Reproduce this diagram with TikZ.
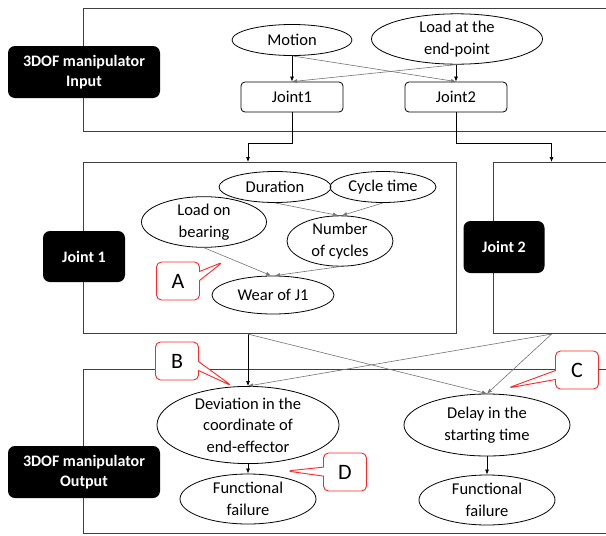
\documentclass[tikz,border=0pt]{standalone}
\usepackage{fontspec}
\setmainfont{Carlito}
\usepackage{tikz}
\usetikzlibrary{shapes.geometric, shapes.callouts, arrows.meta, positioning}
\tikzstyle{frame} = [rectangle, draw=black!75, line width=1.1pt, inner sep=0pt]
\tikzstyle{tag} = [rectangle, rounded corners=7pt, fill=black, text=white, align=center, font=\fontsize{16}{20}\selectfont\bfseries]
\tikzstyle{cause} = [ellipse, draw=black, line width=0.8pt, inner sep=0pt, align=center, font=\fontsize{16.5}{21.5}\selectfont]
\tikzstyle{jnt} = [rectangle, rounded corners=4pt, draw=black, line width=0.8pt, minimum width=102, minimum height=30, font=\fontsize{16.5}{21}\selectfont]
\tikzstyle{note} = [rectangle callout, rounded corners=5pt, draw=red!85, line width=0.9pt, fill=white, minimum width=43, minimum height=38, callout pointer width=9pt, font=\fontsize{22}{24}\selectfont]
\tikzstyle{arr} = [-{Latex[length=5pt,width=4pt]}, line width=0.7pt]
\tikzstyle{arr2} = [-{Latex[length=5pt,width=4pt]}, line width=0.6pt, draw=black!55]

\begin{document}
\begin{tikzpicture}[x=1pt, y=-1pt]
            \useasboundingbox (0,0) rectangle (606,536);

            % Frames
            \node (inframe) [frame, anchor=north west, minimum width=560, minimum height=123] at (83,8) {};
            \node (jf1) [frame, anchor=north west, minimum width=373, minimum height=171] at (83,162) {};
            \node (jf2) [frame, anchor=north west, minimum width=116, minimum height=171] at (493,162) {};
            \node (outframe) [frame, anchor=north west, minimum width=560, minimum height=164] at (83,369) {};

            % Tags
            \node (tagin) [tag, minimum width=152, minimum height=52] at (84,72) {3DOF manipulator\\Input};
            \node (tagj1) [tag, minimum width=82, minimum height=51] at (84,256.5) {Joint 1};
            \node (tagj2) [tag, minimum width=81, minimum height=52] at (504,247) {Joint 2};
            \node (tagout) [tag, minimum width=152, minimum height=52] at (84,472) {3DOF manipulator\\Output};

            % Input level
            \node (motion) [cause, minimum width=120, minimum height=31] at (292,40) {Motion};
            \node (load) [cause, minimum width=171, minimum height=40] at (457,39) {Load at the\\end-point};
            \node (j1) [jnt] at (292,97) {Joint1};
            \node (j2) [jnt] at (456,97) {Joint2};

            % Joint 1
            \node (dur) [cause, minimum width=112, minimum height=31] at (275,187) {Duration};
            \node (cyc) [cause, minimum width=106, minimum height=31] at (383,187) {Cycle time};
            \node (bear) [cause, minimum width=125, minimum height=41] at (204,222) {Load on\\bearing};
            \node (ncyc) [cause, minimum width=106, minimum height=42] at (340,241) {Number\\of cycles};
            \node (wear) [cause, minimum width=122, minimum height=38] at (273,295) {Wear of J1};

            % Output level
            \node (dev) [cause, minimum width=182, minimum height=70] at (248,425) {Deviation in the\\coordinate of\\end-effector};
            \node (delay) [cause, minimum width=166, minimum height=62] at (487,425) {Delay in the\\starting time};
            \node (ff1) [cause, minimum width=136, minimum height=50] at (248,499) {Functional\\failure};
            \node (ff2) [cause, minimum width=136, minimum height=50] at (487,500) {Functional\\failure};

            % Draw edges
            \draw [arr] (motion) -- (j1);
            \draw [arr2] (motion.south) -- (j2.north);
            \draw [arr2] (load.south) -- (j1.north);
            \draw [arr] (load.south -| j2.north) -- (j2.north);
            \draw [arr] (j1.south) -- ++(0,31) -| (dev.north |- jf1.north);
            \draw [arr] (j2.south) -- ++(0,31) -| (jf2.north);
            \draw [arr2] (dur.south) -- ([xshift=-2pt]ncyc.north);
            \draw [arr2] (cyc.south) -- ([xshift=2pt]ncyc.north);
            \draw [arr2] (bear.south) -- ([xshift=-2pt]wear.north);
            \draw [arr2] (ncyc.south) -- ([xshift=2pt]wear.north);
            \draw [arr] (dev.north |- jf1.south) -- (dev.north);
            \draw [arr2] (dev.north |- jf1.south) -- (delay.north);
            \draw [arr2] (jf2.south) -- (dev.north);
            \draw [arr2] (jf2.south) -- (delay.north);
            \draw [arr] (dev) -- (ff1);
            \draw [arr] (delay) -- (ff2);

            % Callouts
            \node (noteA) [note, callout absolute pointer={(223,262)}] at (178,281) {A};
            \node (noteB) [note, callout absolute pointer={(232,386)}] at (177,361) {B};
            \node (noteC) [note, callout absolute pointer={(508,388)}] at (577,370) {C};
            \node (noteD) [note, callout absolute pointer={(287,471)}] at (345,472) {D};
\end{tikzpicture}
\end{document}
